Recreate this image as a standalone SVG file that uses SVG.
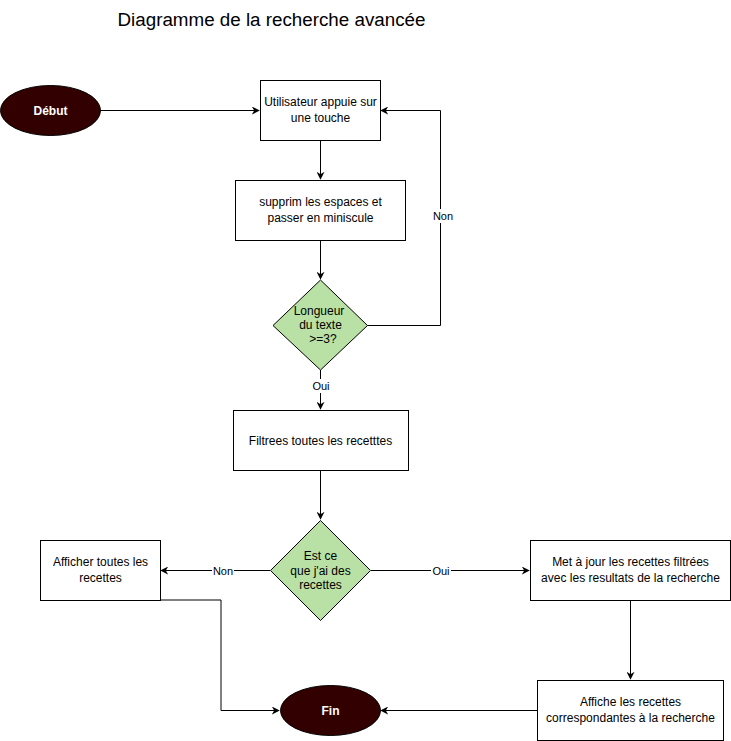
<svg xmlns="http://www.w3.org/2000/svg" width="731" height="741" viewBox="0 0 731 741">
<defs>
<marker id="arr" viewBox="0 0 10 10" refX="9" refY="5" markerWidth="8" markerHeight="8" markerUnits="userSpaceOnUse" orient="auto">
<path d="M0,0 L10,5 L0,10 L3,5 Z" fill="#000"/>
</marker>
</defs>
<style>
text{font-family:"Liberation Sans",Arial,sans-serif;font-size:12px;fill:#000;text-anchor:middle}
.box{fill:#fff;stroke:#000;stroke-width:1}
.dia{fill:#b9e0a5;stroke:#000;stroke-width:1}
.term{fill:#330000;stroke:#000;stroke-width:1}
.tt{fill:#fff;font-weight:bold}
.edge{fill:none;stroke:#000;stroke-width:1;marker-end:url(#arr)}
.lbl{font-size:11px}
.lb{fill:#fff}
</style>
<rect width="731" height="741" fill="#fff"/>
<text x="271.5" y="26" style="font-size:18.8px">Diagramme de la recherche avancée</text>

<g id="connectors">
<path class="edge" d="M100,110.5 L259,110.5"/>
<path class="edge" d="M320.5,140 L320.5,179"/>
<path class="edge" d="M320.5,240 L320.5,279"/>
<path class="edge" d="M367,325.5 L440.5,325.5 L440.5,110.5 L381,110.5"/>
<rect class="lb" x="432" y="209" width="22" height="14"/>
<text class="lbl" x="443" y="220">Non</text>
<path class="edge" d="M320.5,370 L320.5,409"/>
<rect class="lb" x="311" y="379" width="20" height="14"/>
<text class="lbl" x="321" y="390">Oui</text>
<path class="edge" d="M320.5,470 L320.5,519"/>
<path class="edge" d="M270,570.5 L161,570.5"/>
<rect class="lb" x="212" y="564" width="22" height="14"/>
<text class="lbl" x="223" y="575">Non</text>
<path class="edge" d="M371,570.5 L529,570.5"/>
<rect class="lb" x="431" y="564" width="20" height="14"/>
<text class="lbl" x="441" y="575">Oui</text>
<path class="edge" d="M160,600 L221,600 L221,710.5 L279,710.5"/>
<path class="edge" d="M630.5,600 L630.5,679"/>
<path class="edge" d="M537,710.5 L381,710.5"/>
</g>

<g id="debut">
<ellipse class="term" cx="50.5" cy="110.5" rx="50" ry="25"/>
<text class="tt" x="50.5" y="115">Début</text>
</g>
<g id="appuie">
<rect class="box" x="260.5" y="80.5" width="120" height="60"/>
<text x="320.5" y="106">Utilisateur appuie sur</text>
<text x="320.5" y="122">une touche</text>
</g>
<g id="supprim">
<rect class="box" x="235.5" y="180.5" width="170" height="60"/>
<text x="320.5" y="206">supprim les espaces et</text>
<text x="320.5" y="222">passer en miniscule</text>
</g>
<g id="longueur">
<path class="dia" d="M320.5,280 L367.5,325.5 L320.5,370 L273,325.5 Z"/>
<text x="319" y="315">Longueur</text>
<text x="320.5" y="329">du texte</text>
<text x="323" y="343">&gt;=3?</text>
</g>
<g id="filtrees">
<rect class="box" x="233.5" y="410.5" width="175" height="60"/>
<text x="320.5" y="445">Filtrees toutes les recetttes</text>
</g>
<g id="estce">
<path class="dia" d="M320.5,520.5 L370.5,570.5 L320.5,620.5 L270.5,570.5 Z"/>
<text x="320.5" y="560">Est ce</text>
<text x="320.5" y="575">que j'ai des</text>
<text x="320.5" y="589">recettes</text>
</g>
<g id="afficher">
<rect class="box" x="40.5" y="540.5" width="120" height="60"/>
<text x="100.5" y="566">Afficher toutes les</text>
<text x="100.5" y="582">recettes</text>
</g>
<g id="met">
<rect class="box" x="530.5" y="540.5" width="200" height="60"/>
<text x="630.5" y="566">Met à jour les recettes filtrées</text>
<text x="630.5" y="582">avec les resultats de la recherche</text>
</g>
<g id="affiche">
<rect class="box" x="537.5" y="680.5" width="186" height="60"/>
<text x="630.5" y="706">Affiche les recettes</text>
<text x="630.5" y="722">correspondantes à la recherche</text>
</g>
<g id="fin">
<ellipse class="term" cx="330.5" cy="710.5" rx="50" ry="25"/>
<text class="tt" x="330.5" y="715">Fin</text>
</g>
</svg>
